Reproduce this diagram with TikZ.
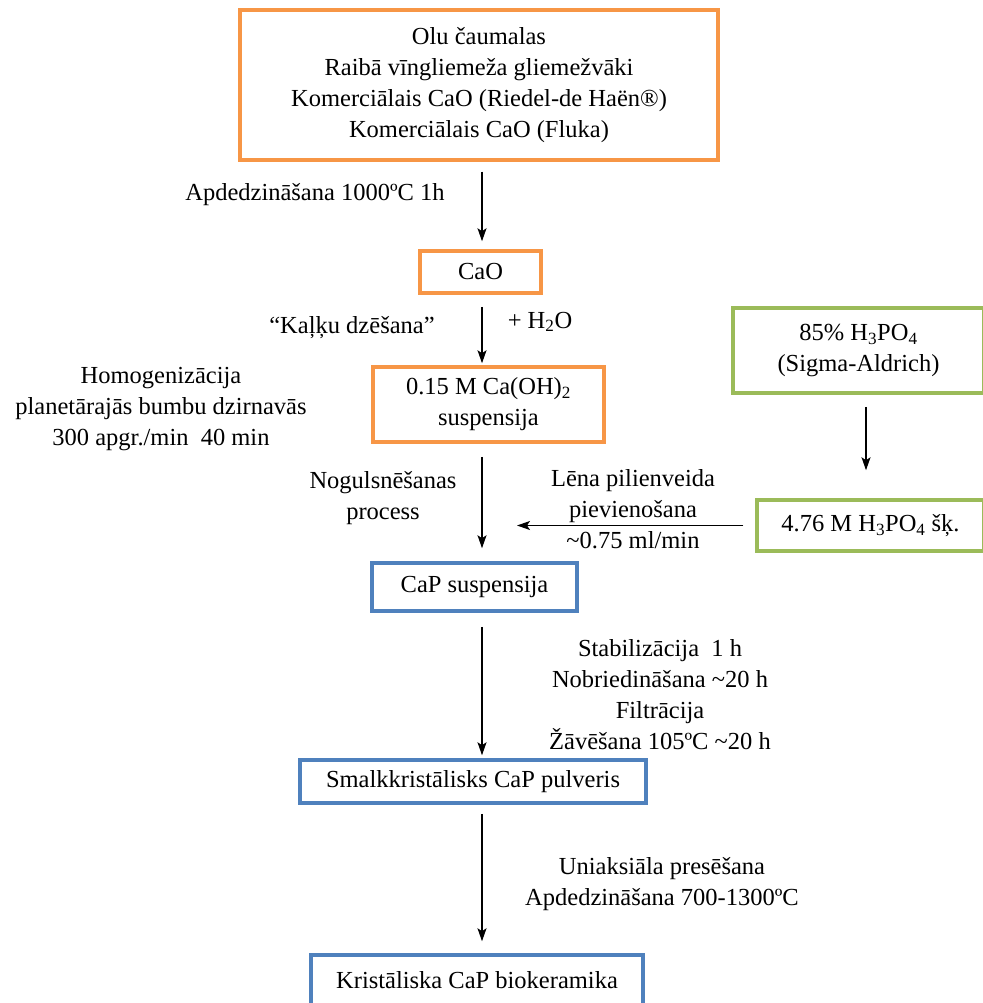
\documentclass[tikz,border=0pt]{standalone}
\usepackage{fontspec}
\setmainfont{Liberation Serif}
\usetikzlibrary{positioning, arrows.meta}
\definecolor{boxorange}{RGB}{247,150,70}
\definecolor{boxgreen}{RGB}{155,187,89}
\definecolor{boxblue}{RGB}{79,129,189}
\newcommand{\chsub}[1]{\textsubscript{#1}}

\begin{document}
\begin{tikzpicture}[x=1pt, y=-1pt,
  every node/.style={inner sep=0pt, font=\fontsize{24.5}{31}\selectfont},
  box/.style={draw, line width=3.5pt, align=center},
  obox/.style={box, draw=boxorange},
  gbox/.style={box, draw=boxgreen},
  bbox/.style={box, draw=boxblue},
  ann/.style={align=center},
  arrow/.style={-{Stealth[length=13pt, width=9pt, inset=3pt]}, line width=1.3pt}]
\useasboundingbox (0,0) rectangle (982,1003);
\coordinate (spine) at (482,0);
\node[obox, minimum width=478pt, minimum height=150pt] (src) at (479,85)
  {Olu čaumalas\\ Raibā vīngliemeža gliemežvāki\\
   Komerciālais CaO (Riedel-de Haën®)\\ Komerciālais CaO (Fluka)};
\node[obox, minimum width=121pt, minimum height=42pt] (cao) at (480.5,272) {CaO};
\node[obox, minimum width=231pt, minimum height=75pt] (caoh) at (488.5,404.5)
  {0.15 M Ca(OH)\chsub{2}\\ suspensija};
\node[gbox, minimum width=251pt, minimum height=85pt] (acid) at (858.5,350.5)
  {85\% H\chsub{3}PO\chsub{4}\\ (Sigma-Aldrich)};
\node[gbox, minimum width=227pt, minimum height=51pt] (acidsol) at (870.5,525.5)
  {4.76 M H\chsub{3}PO\chsub{4} šķ.};
\node[bbox, minimum width=205pt, minimum height=48pt] (capsus) at (474.5,587) {CaP suspensija};
\node[bbox, minimum width=346pt, minimum height=43pt] (powder) at (473,781.5)
  {Smalkkristālisks CaP pulveris};
\node[bbox, minimum width=332pt, minimum height=50pt, text depth=0pt] (ceramic) at (477,980)
  {Kristāliska CaP biokeramika};

\node[ann] (lcalc) at (315,195) {Apdedzināšana 1000ºC 1h};
\node[ann] (lslake) at (352,328) {“Kaļķu dzēšana”};
\node[ann] (lwater) at (540,322) {+ H\chsub{2}O};
\node[ann] (lmill) at (161,409) {Homogenizācija\\ planetārajās bumbu dzirnavās\\ 300 apgr./min\enspace 40 min};
\node[ann] (lprec) at (383,498) {Nogulsnēšanas\\ process};
\node[ann] (ldrop) at (633,509) {Lēna pilienveida\\ pievienošana\\ \textasciitilde0.75 ml/min};
\node[ann] (lage) at (660,695) {Stabilizācija\enspace 1 h\\ Nobriedināšana \textasciitilde20 h\\ Filtrācija\\ Žāvēšana 105ºC \textasciitilde20 h};
\node[ann] (lpress) at (662,884.5) {Uniaksiāla presēšana\\ Apdedzināšana 700-1300ºC};

\draw[arrow, shorten <=10pt, shorten >=8pt] (spine |- src.south) -- (spine |- cao.north);
\draw[arrow, shorten <=12pt, shorten >=2pt] (spine |- cao.south) -- (spine |- caoh.north);
\draw[arrow, shorten <=13pt, shorten >=13pt] (spine |- caoh.south) -- (spine |- capsus.north);
\draw[arrow, shorten <=14pt, shorten >=3pt] (spine |- capsus.south) -- (spine |- powder.north);
\draw[arrow, shorten <=9pt, shorten >=12pt] (spine |- powder.south) -- (spine |- ceramic.north);
\draw[arrow, shorten <=12pt, shorten >=28pt] ([xshift=7.5pt]acid.south) -- ([xshift=-4.5pt]acidsol.north);
\draw[arrow, shorten <=12pt, shorten >=35pt] (acidsol.west) -- (spine |- acidsol.west);
\end{tikzpicture}
\end{document}
